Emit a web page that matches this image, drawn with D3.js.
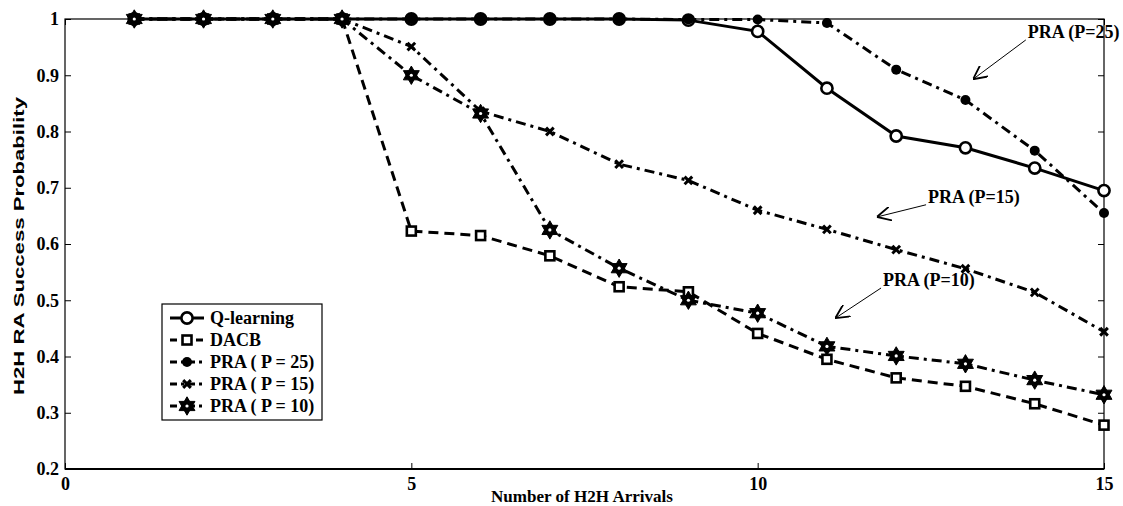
<!DOCTYPE html>
<html>
<head>
<meta charset="utf-8">
<script src="https://cdn.jsdelivr.net/npm/d3@7"></script>
<style>
  body { margin: 0; background: #fff; }
  svg { display: block; }
</style>
</head>
<body>
<svg id="chart" width="1123" height="506"></svg>
<script>
// data
let arrivals = [1, 2, 3, 4, 5, 6, 7, 8, 9, 10, 11, 12, 13, 14, 15];
let qLearning = [1, 1, 1, 1, 1, 1, 1, 1, 0.998, 0.978, 0.877, 0.792, 0.771, 0.735, 0.695];
let dacb = [1, 1, 1, 1, 0.623, 0.615, 0.579, 0.524, 0.515, 0.441, 0.395, 0.362, 0.347, 0.316, 0.278];
let pra25 = [1, 1, 1, 1, 1, 1, 1, 1, 0.999, 0.999, 0.993, 0.910, 0.856, 0.766, 0.655];
let pra15 = [1, 1, 1, 1, 0.951, 0.836, 0.800, 0.742, 0.713, 0.660, 0.626, 0.590, 0.556, 0.514, 0.444];
let pra10 = [1, 1, 1, 1, 0.900, 0.832, 0.625, 0.557, 0.500, 0.477, 0.418, 0.401, 0.387, 0.358, 0.332];
let xTicks = [0, 5, 10, 15];
let yTicks = [0.2, 0.3, 0.4, 0.5, 0.6, 0.7, 0.8, 0.9, 1];
let seriesNames = ["Q-learning", "DACB", "PRA ( P = 25)", "PRA ( P = 15)", "PRA ( P = 10)"];
// text position (start of label) and arrow tip, in data units
let notes = [
    { text: "PRA (P=25)", x: 13.90, y: 0.977, ax: 13.11, ay: 0.893 },
    { text: "PRA (P=15)", x: 12.46, y: 0.684, ax: 11.72, ay: 0.648 },
    { text: "PRA (P=10)", x: 11.81, y: 0.536, ax: 11.12, ay: 0.468 }
];

let svg = d3.select("#chart");
let mLeft = 65, mRight = 1104, mTop = 19, mBottom = 469;
let serif = "'Liberation Serif', 'Times New Roman', serif";

let x = d3.scaleLinear().domain([0, 15]).range([mLeft, mRight]);
let y = d3.scaleLinear().domain([0.2, 1]).range([mBottom, mTop]);

// hexagram symbol (two triangles)
let hexagram = {
    draw: function (ctx, size) {
        let r = Math.sqrt(size) * 0.62;
        for (let k = 0; k < 2; k++) {
            for (let i = 0; i < 3; i++) {
                let a = -Math.PI / 2 + k * Math.PI + i * 2 * Math.PI / 3;
                let px = r * Math.cos(a), py = r * Math.sin(a);
                if (i == 0) ctx.moveTo(px, py); else ctx.lineTo(px, py);
            }
            ctx.closePath();
        }
    }
};

let series = [
    { name: seriesNames[0], values: qLearning, dash: null, marker: "circleOpen" },
    { name: seriesNames[1], values: dacb, dash: "10,6", marker: "square" },
    { name: seriesNames[2], values: pra25, dash: "10,5,3,5", marker: "dot" },
    { name: seriesNames[3], values: pra15, dash: "10,5,3,5", marker: "x" },
    { name: seriesNames[4], values: pra10, dash: "10,5,3,5", marker: "star" }
];

function drawMarker(g, kind, cx, cy) {
    if (kind == "circleOpen") {
        g.append("circle").attr("cx", cx).attr("cy", cy).attr("r", 5.6)
            .attr("fill", "#fff").attr("stroke", "#000").attr("stroke-width", 2.6);
    } else if (kind == "square") {
        g.append("rect").attr("x", cx - 4.5).attr("y", cy - 4.5).attr("width", 9).attr("height", 9)
            .attr("fill", "#fff").attr("stroke", "#000").attr("stroke-width", 2.6);
    } else if (kind == "dot") {
        g.append("circle").attr("cx", cx).attr("cy", cy).attr("r", 5).attr("fill", "#000");
    } else if (kind == "x") {
        g.append("path").attr("transform", "translate(" + cx + "," + cy + ")")
            .attr("d", d3.symbol().type(d3.symbolX).size(40)())
            .attr("stroke", "#000").attr("stroke-width", 3).attr("fill", "none");
    } else if (kind == "star") {
        g.append("path").attr("transform", "translate(" + cx + "," + cy + ")")
            .attr("d", d3.symbol().type(hexagram).size(220)())
            .attr("fill", "#000").attr("stroke", "#000").attr("stroke-width", 1);
        g.append("circle").attr("cx", cx).attr("cy", cy).attr("r", 1.6).attr("fill", "#fff");
    }
}

// axes box
svg.append("rect").attr("x", mLeft).attr("y", mTop)
    .attr("width", mRight - mLeft).attr("height", mBottom - mTop)
    .attr("fill", "none").attr("stroke", "#000").attr("stroke-width", 1.2);
svg.append("line").attr("x1", mLeft).attr("x2", mRight).attr("y1", mBottom).attr("y2", mBottom)
    .attr("stroke", "#000").attr("stroke-width", 2.2);

let xAxis = svg.append("g").attr("transform", "translate(0," + mBottom + ")")
    .call(d3.axisBottom(x).tickValues(xTicks).tickSizeInner(-6).tickSizeOuter(0).tickPadding(6).tickFormat(d3.format("d")));
xAxis.select(".domain").remove();
xAxis.selectAll("text").attr("dy", "0.85em")
    .style("font-family", serif).style("font-weight", "bold").style("font-size", "18px");

let yAxis = svg.append("g").attr("transform", "translate(" + mLeft + ",0)")
    .call(d3.axisLeft(y).tickValues(yTicks).tickSizeInner(-6).tickSizeOuter(0).tickPadding(6).tickFormat(d => d == 1 ? "1" : d3.format(".1f")(d)));
yAxis.select(".domain").remove();
yAxis.selectAll("text")
    .style("font-family", serif).style("font-weight", "bold").style("font-size", "18px");

// mirrored ticks on top and right
svg.append("g").attr("transform", "translate(0," + mTop + ")")
    .call(d3.axisTop(x).tickValues(xTicks).tickSizeInner(-6).tickSizeOuter(0).tickFormat(""))
    .select(".domain").remove();
svg.append("g").attr("transform", "translate(" + mRight + ",0)")
    .call(d3.axisRight(y).tickValues(yTicks).tickSizeInner(-6).tickSizeOuter(0).tickFormat(""))
    .select(".domain").remove();

// lines
let line = d3.line().x((d, i) => x(arrivals[i])).y(d => y(d));
let plot = svg.append("g");
series.forEach(function (s) {
    plot.append("path")
        .datum(s.values)
        .attr("d", line)
        .attr("fill", "none")
        .attr("stroke", "#000")
        .attr("stroke-width", 3)
        .attr("stroke-dasharray", s.dash);
});
series.forEach(function (s) {
    let g = plot.append("g");
    s.values.forEach(function (v, i) {
        drawMarker(g, s.marker, x(arrivals[i]), y(v));
    });
});

// annotations
svg.append("defs").append("marker")
    .attr("id", "arrow").attr("viewBox", "0 0 10 10").attr("refX", 10).attr("refY", 5)
    .attr("markerWidth", 14).attr("markerHeight", 14).attr("markerUnits", "userSpaceOnUse")
    .attr("orient", "auto")
    .append("path").attr("d", "M0,0 L10,5 L0,10").attr("fill", "none").attr("stroke", "#000").attr("stroke-width", 1.3);

notes.forEach(function (n) {
    let tx = x(n.x), ty = y(n.y);
    svg.append("text").attr("x", tx).attr("y", ty).attr("dy", "0.35em")
        .style("font-family", serif).style("font-weight", "bold").style("font-size", "18px")
        .text(n.text);
    svg.append("line").attr("x1", tx - 2).attr("y1", ty + 8).attr("x2", x(n.ax)).attr("y2", y(n.ay))
        .attr("stroke", "#000").attr("stroke-width", 1).attr("marker-end", "url(#arrow)");
});

// axis titles
svg.append("text").attr("x", 582).attr("y", 502)
    .attr("text-anchor", "middle")
    .attr("textLength", 182).attr("lengthAdjust", "spacingAndGlyphs")
    .style("font-family", serif).style("font-weight", "bold").style("font-size", "17px")
    .text("Number of H2H Arrivals");
svg.append("text").attr("transform", "translate(24,246) rotate(-90)")
    .attr("text-anchor", "middle")
    .attr("textLength", 298).attr("lengthAdjust", "spacingAndGlyphs")
    .style("font-family", "'Liberation Sans', Arial, sans-serif").style("font-weight", "bold").style("font-size", "15px")
    .text("H2H RA Success Probability");

// legend
let lg = svg.append("g").attr("transform", "translate(162,304)");
lg.append("rect").attr("width", 160).attr("height", 116)
    .attr("fill", "#fff").attr("stroke", "#000").attr("stroke-width", 1.2);
series.forEach(function (s, i) {
    let yy = 14 + i * 22;
    lg.append("line").attr("x1", 8).attr("x2", 42).attr("y1", yy).attr("y2", yy)
        .attr("stroke", "#000").attr("stroke-width", 3).attr("stroke-dasharray", s.dash ? (i == 1 ? "7,6" : "7,4,3,4") : null);
    drawMarker(lg, s.marker, 25, yy);
    lg.append("text").attr("x", 48).attr("y", yy).attr("dy", "0.35em")
        .style("font-family", serif).style("font-weight", "bold").style("font-size", "18px")
        .text(s.name);
});
</script>
</body>
</html>
